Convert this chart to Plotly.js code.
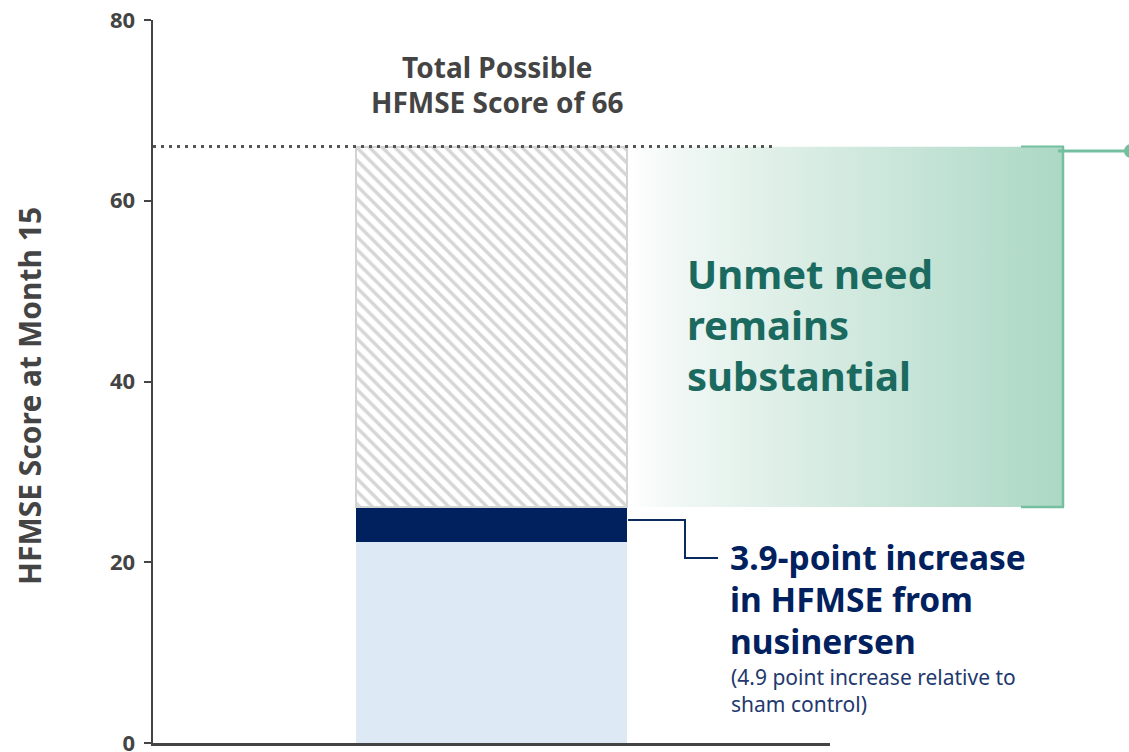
<!DOCTYPE html>
<html>
<head>
<meta charset="utf-8">
<script src="https://cdn.plot.ly/plotly-3.0.1.min.js"></script>
<style>
  html, body { margin: 0; padding: 0; background: #ffffff; }
  #chart { width: 1129px; height: 752px; }
</style>
</head>
<body>
<div id="chart"></div>
<script>
// ---- data ----
const categories = ["HFMSE at Month 15"];
const baselineScore = [22.2];      // score without the nusinersen increase
const nusinersenIncrease = [3.9];  // 3.9-point increase
const totalPossible = 66;          // maximum HFMSE score
const unmetNeed = [totalPossible - baselineScore[0] - nusinersenIncrease[0]];
const yTickVals = [0, 20, 40, 60, 80];
const yTickText = ["0", "20", "40", "60", "80"];

// ---- layout helpers (pixel -> paper) ----
const W = 1129, H = 752;
const M = { l: 153, r: 299, t: 20, b: 9 };
const PW = W - M.l - M.r, PH = H - M.t - M.b;
const px = v => (v - M.l) / PW;
const py = v => (H - M.b - v) / PH;

const font = "Noto Sans, Open Sans, DejaVu Sans, sans-serif";
const xPos = [0.5];
const barWidth = 0.4017;
const topOfBar = baselineScore[0] + nusinersenIncrease[0];

const traces = [
  {
    type: "bar", x: xPos, y: baselineScore, width: barWidth,
    marker: { color: "#dde9f5", line: { width: 0 } },
    hoverinfo: "skip", name: categories[0]
  },
  {
    type: "bar", x: xPos, y: nusinersenIncrease, width: barWidth,
    marker: { color: "#00205e", line: { width: 0 } },
    hoverinfo: "skip"
  },
  {
    type: "bar", x: xPos, y: unmetNeed, width: barWidth,
    marker: {
      color: "#ffffff",
      line: { color: "#d3d3d3", width: 2 },
      pattern: { shape: "\\", fgcolor: "#d6d6d6", bgcolor: "#ffffff", size: 9, solidity: 0.38 }
    },
    hoverinfo: "skip"
  }
];

const gradSvg = '<svg xmlns="http://www.w3.org/2000/svg" width="400" height="100" preserveAspectRatio="none">' +
  '<defs><linearGradient id="g" x1="0" y1="0" x2="1" y2="0">' +
  '<stop offset="0" stop-color="#ffffff"/><stop offset="0.12" stop-color="#f0f7f4"/>' +
  '<stop offset="1" stop-color="#acd8c5"/></linearGradient></defs>' +
  '<rect x="0" y="0" width="400" height="100" fill="url(#g)"/></svg>';
const gradSrc = "data:image/svg+xml;charset=utf-8," + encodeURIComponent(gradSvg);

const green = "#74bf9f";
const navy = "#0b2a5e";

const shapes = [
  { type: "line", xref: "paper", yref: "y", x0: 0, x1: px(775), y0: totalPossible, y1: totalPossible,
    line: { color: "#555555", width: 3, dash: "3px,5px" } },
  { type: "line", xref: "paper", yref: "y", x0: px(1063), x1: px(1063), y0: totalPossible, y1: topOfBar,
    line: { color: green, width: 2.5 } },
  { type: "line", xref: "paper", yref: "y", x0: px(1021), x1: px(1064), y0: totalPossible, y1: totalPossible,
    line: { color: green, width: 2 } },
  { type: "line", xref: "paper", yref: "y", x0: px(1021), x1: px(1064), y0: topOfBar, y1: topOfBar,
    line: { color: green, width: 2.5 } },
  { type: "line", xref: "paper", yref: "paper", x0: px(1058), x1: px(1128), y0: py(151), y1: py(151),
    line: { color: green, width: 3 } },
  { type: "circle", xref: "paper", yref: "paper", x0: px(1124), x1: px(1138), y0: py(144), y1: py(158),
    fillcolor: green, line: { color: green, width: 0 } },
  { type: "path", xref: "paper", yref: "paper",
    path: `M ${px(628)} ${py(520)} L ${px(685)} ${py(520)} L ${px(685)} ${py(558)} L ${px(718)} ${py(558)}`,
    line: { color: navy, width: 2 } }
];

// multi-line block: lineGap sets the spacing (via base font size), glyphSize the rendered size
function block(lines, xPix, yCenter, lineGap, glyphSize, color, weight, anchor) {
  const text = lines.map(l => `<span style="font-size:${glyphSize}px">${l}</span>`).join("<br>");
  return { xref: "paper", yref: "paper", x: px(xPix), y: py(yCenter), text: text,
    showarrow: false, xanchor: anchor, yanchor: "middle", align: anchor,
    font: { family: font, size: lineGap / 1.3, color: color, weight: weight } };
}

const annotations = [
  block(["Total Possible", "HFMSE Score of 66"], 497, 84, 35, 28, "#444444", 700, "center"),
  block(["Unmet need", "remains", "substantial"], 685, 325, 51, 40, "#1b6a5f", 700, "left"),
  block(["3.9-point increase", "in HFMSE from", "nusinersen"], 728, 599, 42, 33.5, "#00205e", 700, "left"),
  block(["(4.9 point increase relative to", "sham control)"], 729, 690, 26.5, 21, "#22386e", 400, "left"),
  { xref: "paper", yref: "paper", x: px(30), y: py(396), text: "HFMSE Score at Month 15",
    showarrow: false, textangle: -90, xanchor: "center", yanchor: "middle",
    font: { family: font, size: 30, color: "#444444", weight: 700 } }
];

const layout = {
  width: W, height: H,
  margin: M,
  paper_bgcolor: "#ffffff", plot_bgcolor: "rgba(0,0,0,0)",
  barmode: "stack", bargap: 0, showlegend: false,
  font: { family: font, color: "#444444" },
  xaxis: { range: [0, 1], showline: true, linecolor: "#444444", linewidth: 2.5,
    showticklabels: false, ticks: "", showgrid: false, zeroline: false, fixedrange: true },
  yaxis: { range: [0, 80], tickvals: yTickVals, ticktext: yTickText, ticks: "outside",
    ticklen: 7, tickwidth: 2, tickcolor: "#444444", showline: true, linecolor: "#444444", linewidth: 2.5,
    showgrid: false, zeroline: false, fixedrange: true, ticklabeloverflow: "allow",
    ticklabelstandoff: 4,
    tickfont: { family: font, size: 22, color: "#444444", weight: 700 } },
  images: [{ source: gradSrc, xref: "paper", yref: "y", x: px(628), y: totalPossible,
    sizex: px(1063) - px(628), sizey: totalPossible - topOfBar, sizing: "stretch",
    xanchor: "left", yanchor: "top", layer: "below" }],
  shapes: shapes,
  annotations: annotations
};

Plotly.newPlot("chart", traces, layout, { staticPlot: true, displayModeBar: false });
</script>
</body>
</html>
